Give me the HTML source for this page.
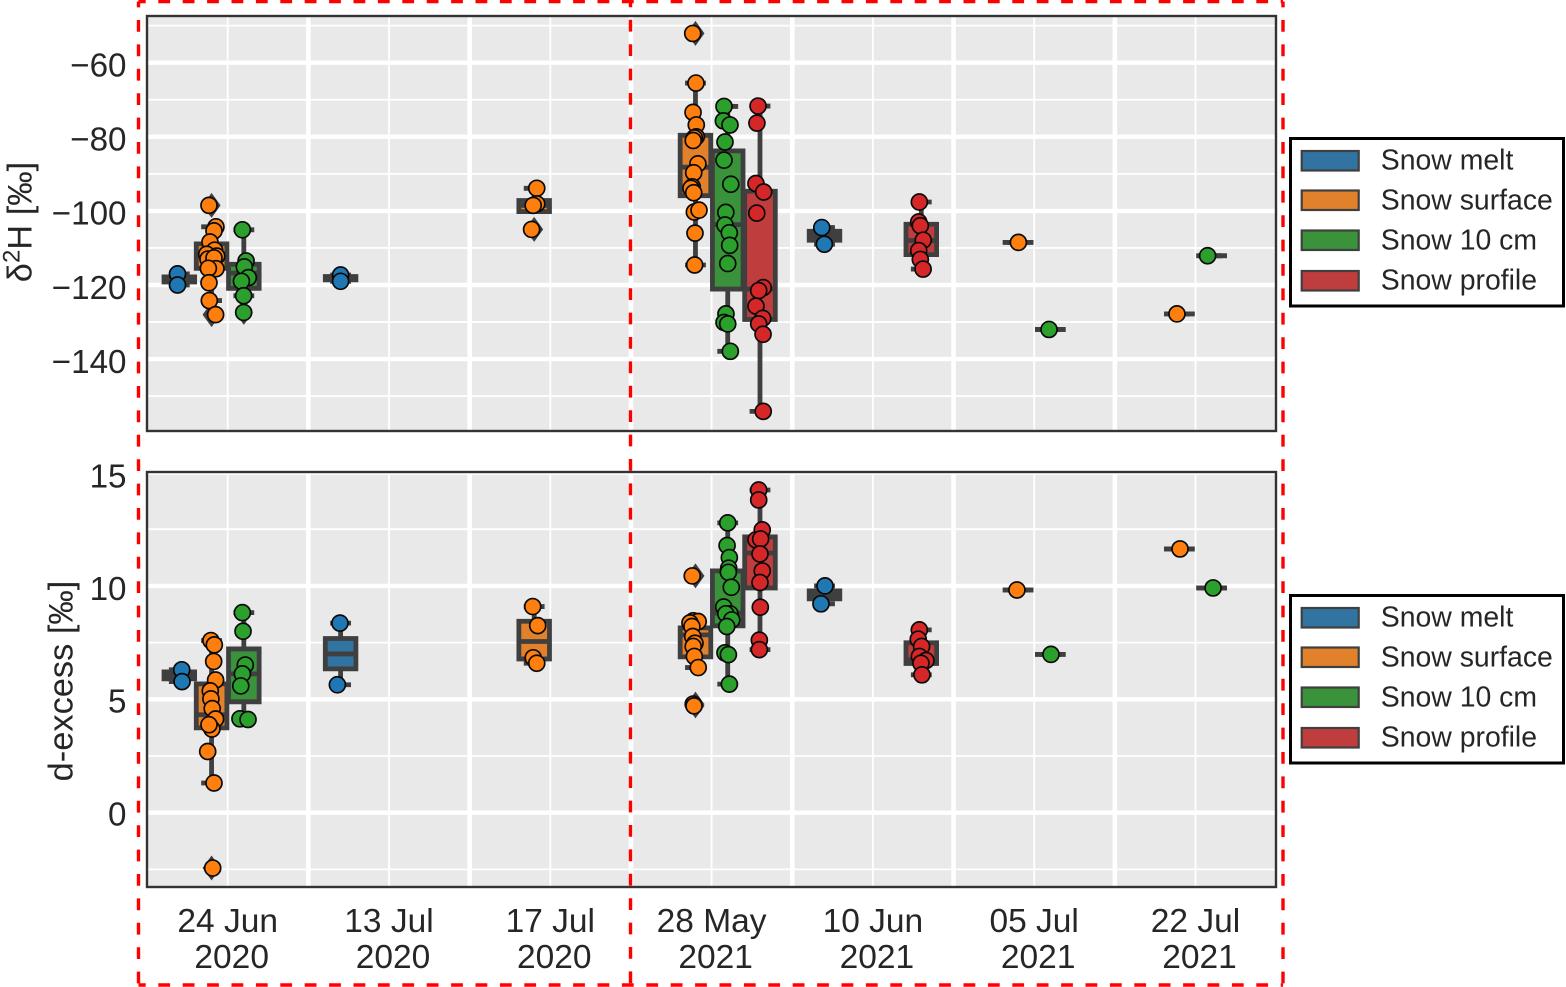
<!DOCTYPE html>
<html lang="en">
<head>
<meta charset="utf-8">
<title>Snow isotope boxplots</title>
<style>
html,body{margin:0;padding:0;background:#fff;}
svg{display:block;font-family:"Liberation Sans",Arial,sans-serif;}
</style>
</head>
<body>
<svg id="chart" xmlns="http://www.w3.org/2000/svg" width="1566" height="987" viewBox="0 0 1566 987"></svg>
<script>
// ---------- categories and series ----------
const categories = ['24 Jun', '13 Jul', '17 Jul', '28 May', '10 Jun', '05 Jul', '22 Jul'];
const years = ['2020', '2020', '2020', '2021', '2021', '2021', '2021'];
const seriesNames = ['Snow melt', 'Snow surface', 'Snow 10 cm', 'Snow profile'];

// ---------- axis ticks ----------
const d2hMajorTicks = [-60, -80, -100, -120, -140];
const d2hMinorTicks = [-50, -70, -90, -110, -130, -150];
const dexMajorTicks = [15, 10, 5, 0];
const dexMinorTicks = [12.5, 7.5, 2.5, -2.5];

// ---------- delta-2H: values per category, jitter in category units, box stats [low, q1, median, q3, high] ----------
const d2hMeltValues = [[-117, -120], [-117.3, -119], [], [], [-104.5, -109], [], []];
const d2hMeltJitter = [[-.011, -.011], [0, 0], [], [], [-.017, -.001], [], []];
const d2hMeltBoxes = [[-120, -119.2, -118.5, -117.8, -117], [-119, -118.6, -118.15, -117.7, -117.3], null, null, [-109, -107.9, -106.7, -105.5, -104.5], null, null];

const d2hSurfaceValues = [
  [-98.5, -104.3, -105.4, -108.4, -110.6, -111.7, -112.2, -113, -112.7, -115.6, -115.5, -119.4, -124.2, -128],
  [],
  [-93.9, -98.1, -98.5, -105],
  [-52.1, -65.5, -73.4, -76.8, -80, -80.3, -81, -87.3, -89.7, -93.5, -93.9, -95.1, -100.3, -99.8, -106, -114.6],
  [],
  [-108.5],
  [-127.8]
];
const d2hSurfaceJitter = [
  [-.016, .027, .015, -.010, .019, -.030, .032, -.022, .015, .027, -.020, -.016, -.014, .025],
  [],
  [.016, .016, -.006, -.016],
  [-.017, .003, -.015, .005, .005, -.007, -.014, .015, -.011, -.020, -.028, -.011, -.007, .022, -.003, -.005],
  [],
  [.002],
  [-.015]
];
const d2hSurfaceBoxes = [
  [-124.2, -115.5, -112.2, -108.9, -104.3],
  null,
  [-100.2, -100.2, -98.5, -97.2, -93.9],
  [-114.6, -95.9, -88.2, -79.6, -65.5],
  null,
  [-108.5, -108.5, -108.5, -108.5, -108.5],
  [-127.8, -127.8, -127.8, -127.8, -127.8]
];

const d2hTenCmValues = [
  [-105.1, -113.5, -115.1, -118, -119, -122.9, -127.4],
  [],
  [],
  [-71.8, -75.7, -76.8, -81.4, -86.3, -92.8, -100.4, -103.8, -105.9, -109.3, -114.2, -127.8, -130.1, -130.5, -137.9],
  [],
  [-132],
  [-112.1]
];
const d2hTenCmJitter = [
  [-.009, .014, .003, .028, -.015, -.001, -.001],
  [],
  [],
  [-.023, -.027, .014, -.017, -.023, .019, -.012, -.017, .010, .012, 0, -.011, -.023, 0, .016],
  [],
  [-.008],
  [-.025]
];
const d2hTenCmBoxes = [
  [-122.9, -120.9, -116.8, -114.4, -105.1],
  null,
  null,
  [-137.9, -121.1, -103.7, -83.8, -71.8],
  null,
  [-132, -132, -132, -132, -132],
  [-112.1, -112.1, -112.1, -112.1, -112.1]
];

const d2hProfileValues = [
  [], [], [],
  [-71.7, -76.3, -92.6, -94.9, -100.6, -120.7, -121.5, -125.7, -129, -130.5, -133.3, -154.1],
  [-97.6, -103, -104, -107.9, -110.7, -113.1, -115.7],
  [], []
];
const d2hProfileJitter = [
  [], [], [],
  [-.012, -.019, -.025, .023, -.020, .020, -.008, -.025, .017, -.008, .019, .020],
  [-.012, -.016, -.006, .012, -.016, -.006, .011],
  [], []
];
const d2hProfileBoxes = [null, null, null, [-154.1, -129.3, -121.1, -94.7, -71.7], [-115.7, -111.8, -108, -103.6, -97.6], null, null];

// ---------- d-excess ----------
const dexMeltValues = [[6.3, 5.78], [8.36, 5.64], [], [], [10, 9.21], [], []];
const dexMeltJitter = [[.015, .017], [-.004, -.020], [], [], [.003, -.022], [], []];
const dexMeltBoxes = [[5.78, 5.9, 6.05, 6.21, 6.3], [5.64, 6.34, 7, 7.68, 8.36], null, null, [9.21, 9.43, 9.6, 9.78, 10], null, null];

const dexSurfaceValues = [
  [7.59, 7.4, 6.67, 5.85, 5.37, 5.02, 4.59, 4.13, 3.69, 3.88, 2.7, 1.31, -2.44],
  [],
  [9.09, 8.25, 6.83, 6.59],
  [10.44, 8.46, 8.43, 8.37, 8.21, 7.77, 7.47, 7.33, 6.89, 6.4, 4.79, 4.71],
  [],
  [9.82],
  [11.63]
];
const dexSurfaceJitter = [
  [-.004, .017, .013, .025, -.008, -.004, .004, .025, .002, -.016, -.024, .015, .007],
  [],
  [-.009, .022, -.006, .016],
  [-.020, -.014, .017, -.034, -.022, -.017, -.003, -.014, -.007, .017, -.014, -.009],
  [],
  [-.007],
  [.004]
];
const dexSurfaceBoxes = [
  [1.31, 3.74, 4.32, 5.68, 7.59],
  null,
  [6.59, 6.78, 7.55, 8.44, 9.09],
  [6.4, 6.87, 7.84, 8.15, 8.46],
  null,
  [9.82, 9.82, 9.82, 9.82, 9.82],
  [11.63, 11.63, 11.63, 11.63, 11.63]
];

const dexTenCmValues = [
  [8.82, 8, 6.51, 6.12, 5.59, 4.14, 4.11],
  [],
  [],
  [12.78, 11.78, 11.25, 10.78, 10.6, 9.94, 9.07, 8.77, 8.77, 8.5, 8.21, 7.05, 6.97, 5.67],
  [],
  [6.98],
  [9.91]
];
const dexTenCmJitter = [
  [-.009, -.005, .009, -.009, -.019, -.024, .026],
  [],
  [],
  [0, -.004, .010, .006, .004, .022, -.025, .014, -.012, .025, -.006, -.017, .004, .010],
  [],
  [.004],
  [.009]
];
const dexTenCmBoxes = [
  [4.11, 4.89, 6.12, 7.22, 8.82],
  null,
  null,
  [5.67, 8.24, 8.8, 10.66, 12.78],
  null,
  [6.98, 6.98, 6.98, 6.98, 6.98],
  [9.91, 9.91, 9.91, 9.91, 9.91]
];

const dexProfileValues = [
  [], [], [],
  [14.23, 13.79, 12.47, 12.03, 12.07, 11.41, 10.66, 10.15, 9.06, 7.61, 7.19],
  [8.06, 7.65, 7.33, 6.89, 6.71, 6.59, 6.08],
  [], []
];
const dexProfileJitter = [
  [], [], [],
  [-.008, -.008, .014, -.025, .004, 0, .014, 0, .002, -.004, -.004],
  [-.012, -.019, .002, -.012, .029, -.002, .004],
  [], []
];
const dexProfileBoxes = [null, null, null, [7.19, 9.91, 11.45, 12.16, 14.23], [6.08, 6.58, 6.74, 7.49, 8.06], null, null];

// ---------- drawing ----------
const svg = document.getElementById('chart');
const NS = 'http://www.w3.org/2000/svg';
const INK = '#262626';
const EDGE = '#3f3f3f';
const pointColors = ['#1f77b4', '#ff7f0e', '#2ca02c', '#d62728'];
const boxColors = ['#3274a1', '#e1812c', '#3a923a', '#c03d3e'];
const slugs = ['snow-melt', 'snow-surface', 'snow-10-cm', 'snow-profile'];

const CAT_W = 161.3;
const xCat = i => 227.7 + CAT_W * i;
const xDodge = (i, s) => xCat(i) + (s - 1.5) * 0.2 * CAT_W;
const yD2h = v => 62.7 + (-60 - v) * 3.705;
const yDex = v => 812.7 - 22.68 * v;

function make(tag, attrs, parent, text) {
  const el = document.createElementNS(NS, tag);
  for (const k in attrs) el.setAttribute(k, attrs[k]);
  if (text !== undefined) el.textContent = text;
  (parent || svg).appendChild(el);
  return el;
}

function fmt(v) {
  return (v < 0 ? '\u2212' : '') + Math.abs(v);
}

function drawPanel(cfg) {
  const top = cfg.top, bottom = cfg.bottom, left = 147, right = 1276;
  const y = cfg.y;
  const bg = make('rect', {x: left, y: top, width: right - left, height: bottom - top, fill: '#e9e9e9'});
  
  

  cfg.minor.forEach(v => {
    const g = make('line', {x1: left, x2: right, y1: y(v), y2: y(v), stroke: '#fff', 'stroke-width': 1.8});
    
    
  });
  cfg.major.forEach(v => {
    const g = make('line', {x1: left, x2: right, y1: y(v), y2: y(v), stroke: '#fff', 'stroke-width': 4.4});
    
    
    const t = make('text', {x: 126.5, y: y(v) + cfg.labelShift(v), 'text-anchor': 'end', 'font-size': 33.2, fill: INK}, svg, fmt(v));
    
    
  });
  categories.forEach((c, i) => {
    const g = make('line', {x1: xCat(i), x2: xCat(i), y1: top, y2: bottom, stroke: '#fff', 'stroke-width': 1.8});
    
    
    if (i < categories.length - 1) {
      const s = make('line', {x1: xCat(i) + CAT_W / 2, x2: xCat(i) + CAT_W / 2, y1: top, y2: bottom, stroke: '#fff', 'stroke-width': 4.6});
      
      
    }
  });

  // boxes, whiskers, caps, medians and outlier diamonds
  cfg.series.forEach((ser, s) => {
    ser.boxes.forEach((b, i) => {
      if (!b) return;
      const cx = xDodge(i, s), hw = 15.3, capHw = 8;
      const g = make('g', {stroke: EDGE, 'stroke-width': 4.8, fill: 'none'});
      
      
      make('line', {x1: cx, x2: cx, y1: y(b[3]), y2: y(b[4])}, g);
      make('line', {x1: cx, x2: cx, y1: y(b[1]), y2: y(b[0])}, g);
      make('line', {x1: cx - capHw, x2: cx + capHw, y1: y(b[4]), y2: y(b[4]), 'stroke-linecap': 'square'}, g);
      make('line', {x1: cx - capHw, x2: cx + capHw, y1: y(b[0]), y2: y(b[0]), 'stroke-linecap': 'square'}, g);
      make('path', {d: 'M' + (cx - hw) + ' ' + y(b[3]) + 'H' + (cx + hw) + 'V' + y(b[1]) + 'H' + (cx - hw) + 'Z', fill: boxColors[s]}, g);
      make('line', {x1: cx - hw, x2: cx + hw, y1: y(b[2]), y2: y(b[2])}, g);
      ser.values[i].forEach(v => {
        if (v < b[0] - 0.001 || v > b[4] + 0.001) {
          const d = make('path', {d: 'M' + cx + ' ' + (y(v) - 12.5) + 'L' + (cx + 9) + ' ' + y(v) + 'L' + cx + ' ' + (y(v) + 12.5) + 'L' + (cx - 9) + ' ' + y(v) + 'Z', fill: EDGE, stroke: 'none'}, g);
          
          
        }
      });
    });
  });

  // strip points, category by category
  categories.forEach((c, i) => {
    cfg.series.forEach((ser, s) => {
      ser.values[i].forEach((v, k) => {
        const px = xDodge(i, s) + ser.jitter[i][k] * CAT_W;
        const p = make('circle', {cx: px, cy: y(v), r: 8, fill: pointColors[s], stroke: '#0a0a0a', 'stroke-width': 1.7});
        
        
      });
    });
  });

  const border = make('rect', {x: left, y: top, width: right - left, height: bottom - top, fill: 'none', stroke: '#333', 'stroke-width': 2.4});
  
  
}

drawPanel({
  name: 'd2h', top: 16, bottom: 431, y: yD2h, major: d2hMajorTicks, minor: d2hMinorTicks,
  labelShift: v => 13.8,
  series: [
    {values: d2hMeltValues, jitter: d2hMeltJitter, boxes: d2hMeltBoxes},
    {values: d2hSurfaceValues, jitter: d2hSurfaceJitter, boxes: d2hSurfaceBoxes},
    {values: d2hTenCmValues, jitter: d2hTenCmJitter, boxes: d2hTenCmBoxes},
    {values: d2hProfileValues, jitter: d2hProfileJitter, boxes: d2hProfileBoxes}
  ]
});
drawPanel({
  name: 'dexcess', top: 472, bottom: 887, y: yDex, major: dexMajorTicks, minor: dexMinorTicks,
  labelShift: v => 12.6 + 0.16 * v,
  series: [
    {values: dexMeltValues, jitter: dexMeltJitter, boxes: dexMeltBoxes},
    {values: dexSurfaceValues, jitter: dexSurfaceJitter, boxes: dexSurfaceBoxes},
    {values: dexTenCmValues, jitter: dexTenCmJitter, boxes: dexTenCmBoxes},
    {values: dexProfileValues, jitter: dexProfileJitter, boxes: dexProfileBoxes}
  ]
});

// category labels
categories.forEach((c, i) => {
  const a = make('text', {x: xCat(i), y: 932, 'text-anchor': 'middle', 'font-size': 33.5, fill: INK}, svg, c);
  
  
  const b = make('text', {x: xCat(i) + 4, y: 968, 'text-anchor': 'middle', 'font-size': 33.5, fill: INK}, svg, years[i]);
  
  
});

// axis titles
const t1 = make('text', {transform: 'translate(31.5 222) rotate(-90)', 'text-anchor': 'middle', 'font-size': 34.4, fill: INK}, svg);


make('tspan', {}, t1, 'δ');
make('tspan', {dy: -12, 'font-size': 24}, t1, '2');
make('tspan', {dy: 12}, t1, 'H [‰]');
const t2 = make('text', {transform: 'translate(72.5 681) rotate(-90)', 'text-anchor': 'middle', 'font-size': 34.4, fill: INK}, svg, 'd-excess [‰]');



// legends
[0, 457].forEach((dy, n) => {
  const g = make('g', {});
  
  
  make('rect', {x: 1290.5, y: 138.5 + dy, width: 273, height: 167.5, fill: '#fff', stroke: '#000', 'stroke-width': 3}, g);
  const patchY = [151, 190.5, 230.5, 271];
  const textY = [169.5, 209.5, 249.5, 289.5];
  seriesNames.forEach((name, s) => {
    const e = make('g', {}, g);
    
    
    make('rect', {x: 1301.7, y: patchY[s] + dy, width: 57, height: 19.5, fill: boxColors[s], stroke: EDGE, 'stroke-width': 2.2}, e);
    make('text', {x: 1380.8, y: textY[s] + dy, 'font-size': 28.4, fill: INK}, e, name);
  });
});

// red dashed frames
const frames = [
  [138.5, 1.5, 1283, 1.5, 4.6],
  [138.5, 1.5, 138.5, 985, 5.9],
  [1283, 1.5, 1283, 985, 5.9],
  [138.5, 985, 1283, 985, 4.6],
  [630.5, 0, 630.5, 987, 4.6]
];
frames.forEach((f, i) => {
  const l = make('line', {x1: f[0], y1: f[1], x2: f[2], y2: f[3], stroke: '#ff0000', 'stroke-width': 3.4, 'stroke-dasharray': '11.8 12.6', 'stroke-dashoffset': f[4]});
  
  
});
</script>
</body>
</html>
